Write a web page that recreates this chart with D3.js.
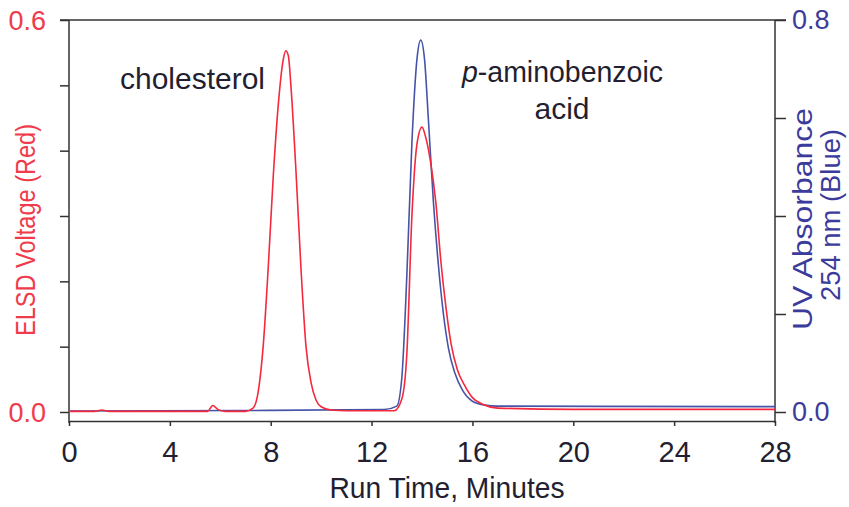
<!DOCTYPE html>
<html>
<head>
<meta charset="utf-8">
<script src="https://cdn.jsdelivr.net/npm/d3@7"></script>
<style>
  body { margin: 0; background: #fff; }
  svg { display: block; font-family: "Liberation Sans", Arial, sans-serif; }
</style>
</head>
<body>
<svg></svg>
<script>
// ELSD trace (red), minutes / volts
const redTime = [0, 1.0, 1.3, 1.6, 3.5, 5.5, 5.7, 5.9, 6.2, 7.0, 7.3, 7.5, 7.7, 7.9, 8.1, 8.3, 8.5, 8.6, 8.7, 8.8, 9.0, 9.2, 9.4, 9.6, 9.8, 10.0, 10.4, 11, 12.9, 13.2, 13.4, 13.6, 13.8, 14.0, 14.15, 14.35, 14.55, 14.75, 14.95, 15.15, 15.4, 15.7, 16.0, 16.4, 17, 20, 28];
const redVolt = [0.001, 0.001, 0.003, 0.001, 0.001, 0.001, 0.01, 0.004, 0.001, 0.001, 0.006, 0.03, 0.1, 0.22, 0.36, 0.47, 0.54, 0.553, 0.545, 0.5, 0.37, 0.22, 0.1, 0.045, 0.018, 0.008, 0.003, 0.002, 0.002, 0.02, 0.09, 0.3, 0.41, 0.436, 0.42, 0.38, 0.32, 0.23, 0.16, 0.105, 0.065, 0.04, 0.022, 0.012, 0.006, 0.004, 0.004];

// UV trace (blue), minutes / absorbance
const blueTime = [0, 7, 12.5, 13.0, 13.2, 13.4, 13.6, 13.8, 13.95, 14.1, 14.25, 14.45, 14.65, 14.85, 15.05, 15.3, 15.6, 16.0, 16.5, 17, 28];
const blueAbs = [0.002, 0.003, 0.005, 0.012, 0.07, 0.28, 0.55, 0.72, 0.759, 0.72, 0.6, 0.43, 0.3, 0.2, 0.13, 0.08, 0.045, 0.022, 0.014, 0.012, 0.011];

const xTicks = [0, 4, 8, 12, 16, 20, 24, 28];
const leftTicks = [0, 0.1, 0.2, 0.3, 0.4, 0.5, 0.6];
const rightTicks = [0, 0.2, 0.4, 0.6, 0.8];

const red = "#f5283c", blue = "#4654a8";
const redText = "#ef3b4b", blueText = "#3b3b9c", ink = "#231f30";

const svg = d3.select("svg").attr("width", 849).attr("height", 507);

const plotL = 69, plotR = 775, plotT = 20, zeroY = 412, axisY = 421;

const x = d3.scaleLinear().domain([0, 28]).range([plotL, plotR]);
const yL = d3.scaleLinear().domain([0, 0.6]).range([zeroY, plotT]);
const yR = d3.scaleLinear().domain([0, 0.8]).range([zeroY, plotT]);

// frame: top line, left & right axis lines
svg.append("line").attr("x1", plotL - 9).attr("x2", plotR + 11).attr("y1", plotT).attr("y2", plotT)
    .attr("stroke", "#333").attr("stroke-width", 1.5);

const gL = svg.append("g").attr("transform", `translate(${plotL},0)`)
    .call(d3.axisLeft(yL).tickValues(leftTicks).tickSize(9).tickFormat(""));
gL.select(".domain").remove();
gL.append("line").attr("y1", plotT).attr("y2", axisY + 2).attr("stroke", "#333").attr("stroke-width", 1.5);
gL.selectAll(".tick line").attr("stroke", "#333").attr("stroke-width", 1.5);

const gR = svg.append("g").attr("transform", `translate(${plotR},0)`)
    .call(d3.axisRight(yR).tickValues(rightTicks).tickSize(11).tickFormat(""));
gR.select(".domain").remove();
gR.append("line").attr("y1", plotT).attr("y2", axisY + 2).attr("stroke", "#333").attr("stroke-width", 1.5);
gR.selectAll(".tick line").attr("stroke", "#333").attr("stroke-width", 1.5);

const gX = svg.append("g").attr("transform", `translate(0,${axisY})`)
    .call(d3.axisBottom(x).tickValues(xTicks).tickSize(5).tickSizeOuter(0));
gX.select(".domain").attr("stroke", "#333").attr("stroke-width", 1.5);
gX.selectAll(".tick line").attr("stroke", "#333").attr("stroke-width", 1.5);
gX.selectAll(".tick text").attr("y", 41).attr("dy", 0).attr("font-size", 29).attr("fill", ink)
    .attr("font-family", "Liberation Sans, Arial, sans-serif");

// end labels on y axes
svg.selectAll(".lblL").data([0, 0.6]).enter().append("text")
    .attr("x", 46).attr("y", d => yL(d)).attr("dy", "0.36em").attr("text-anchor", "end")
    .attr("font-size", 27).attr("fill", redText).text(d => d.toFixed(1));
svg.selectAll(".lblR").data([0, 0.8]).enter().append("text")
    .attr("x", 792).attr("y", d => yR(d) - 1).attr("dy", "0.36em")
    .attr("font-size", 27).attr("fill", blueText).text(d => d.toFixed(1));

// traces
svg.append("path").datum(d3.zip(blueTime, blueAbs))
    .attr("fill", "none").attr("stroke", blue).attr("stroke-width", 1.6)
    .attr("d", d3.line().x(d => x(d[0])).y(d => yR(d[1])).curve(d3.curveMonotoneX));
svg.append("path").datum(d3.zip(redTime, redVolt))
    .attr("fill", "none").attr("stroke", red).attr("stroke-width", 1.6)
    .attr("d", d3.line().x(d => x(d[0])).y(d => yL(d[1])).curve(d3.curveMonotoneX));

// titles
svg.append("text").attr("x", 447).attr("y", 498).attr("text-anchor", "middle")
    .attr("font-size", 30).attr("fill", ink)
    .attr("textLength", 235).attr("lengthAdjust", "spacingAndGlyphs").text("Run Time, Minutes");
svg.append("text").attr("transform", "translate(35,230) rotate(-90)").attr("text-anchor", "middle")
    .attr("font-size", 28).attr("fill", redText)
    .attr("textLength", 212).attr("lengthAdjust", "spacingAndGlyphs").text("ELSD Voltage (Red)");
svg.append("text").attr("transform", "translate(812,219) rotate(-90)").attr("text-anchor", "middle")
    .attr("font-size", 27).attr("fill", blueText)
    .attr("textLength", 222).attr("lengthAdjust", "spacingAndGlyphs").text("UV Absorbance");
svg.append("text").attr("transform", "translate(840,215) rotate(-90)").attr("text-anchor", "middle")
    .attr("font-size", 27).attr("fill", blueText)
    .attr("textLength", 172).attr("lengthAdjust", "spacingAndGlyphs").text("254 nm (Blue)");

// peak annotations
svg.append("text").attr("x", 120).attr("y", 89).attr("font-size", 30).attr("fill", ink)
    .attr("textLength", 145).attr("lengthAdjust", "spacingAndGlyphs").text("cholesterol");
const pa = svg.append("text").attr("x", 462).attr("y", 82).attr("font-size", 30).attr("fill", ink)
    .attr("textLength", 201).attr("lengthAdjust", "spacingAndGlyphs");
pa.append("tspan").attr("font-style", "italic").text("p");
pa.append("tspan").text("-aminobenzoic");
svg.append("text").attr("x", 562).attr("y", 119).attr("text-anchor", "middle")
    .attr("font-size", 30).attr("fill", ink).text("acid");
</script>
</body>
</html>
